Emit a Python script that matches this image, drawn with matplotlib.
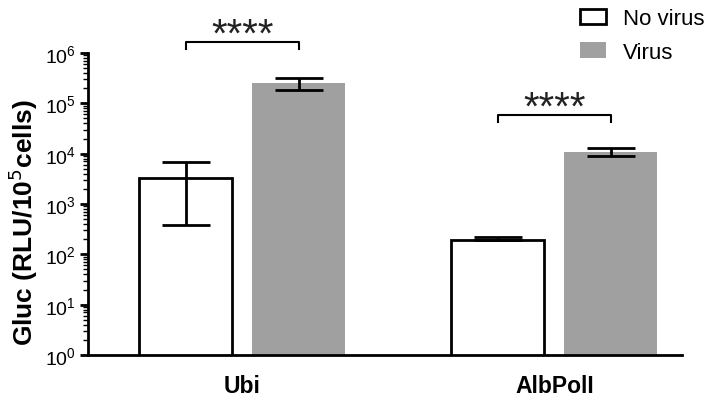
import numpy as np
import matplotlib.pyplot as plt
from matplotlib.patches import Patch

plt.rcParams['font.family'] = ['Liberation Sans', 'DejaVu Sans']

groups = ['Ubi', 'AlbPolI']
no_virus = [3300, 193]
no_virus_low = [390, 193]
no_virus_high = [6700, 222]
virus = [2.5e5, 1.09e4]
virus_low = [1.85e5, 9100]
virus_high = [3.2e5, 1.3e4]

# significance brackets: (bracket y, tick bottom y, star y)
sig_y = [(1.65e6, 1.2e6, 2.3e6), (5.9e4, 4.3e4, 8.3e4)]
sig_text = ['****', '****']

fig = plt.figure(figsize=(7.08, 4.02), dpi=100)
ax = fig.add_axes([88 / 708, 46 / 402, (682 - 88) / 708, 302 / 402])

x = np.arange(len(groups))
off = 0.181
w = 0.298

nv = np.array(no_virus)
vv = np.array(virus)
nv_err = [nv - np.array(no_virus_low), np.array(no_virus_high) - nv]
vv_err = [vv - np.array(virus_low), np.array(virus_high) - vv]

ax.bar(x - off, nv, w, color='white', edgecolor='black', linewidth=2, zorder=2)
ax.bar(x + off, vv, w, color='#a0a0a0', edgecolor='none', zorder=2)
ax.errorbar(x - off, nv, yerr=nv_err, fmt='none', ecolor='black', elinewidth=2,
            capsize=17, capthick=2, zorder=3)
ax.errorbar(x + off, vv, yerr=vv_err, fmt='none', ecolor='black', elinewidth=2,
            capsize=17, capthick=2, zorder=3)

for i, (yb, yt, ys) in enumerate(sig_y):
    ax.plot([x[i] - off, x[i] - off, x[i] + off, x[i] + off], [yt, yb, yb, yt],
            color='black', linewidth=1.5, clip_on=False)
    ax.text(x[i], ys, sig_text[i], ha='center', va='center', fontsize=29,
            color='#222222', clip_on=False)

ax.set_yscale('log')
ax.set_ylim(1, 1e6)
ax.set_xlim(-0.495, 1.409)
ax.set_xticks(x)
ax.set_xticklabels(groups, fontsize=16.5, fontweight='bold')
ax.tick_params(axis='x', length=0, pad=14)
ax.set_yticks([10 ** k for k in range(7)])
ax.tick_params(axis='y', which='major', length=6, width=2, labelsize=14, pad=3)
ax.tick_params(axis='y', which='minor', length=3.5, width=1)
ax.set_ylabel('Gluc (RLU/10$^5$cells)', fontsize=19, fontweight='bold')
ax.yaxis.set_label_coords(-0.08, 0.44)

for s in ['top', 'right']:
    ax.spines[s].set_visible(False)
for s in ['left', 'bottom']:
    ax.spines[s].set_linewidth(2)

handles = [Patch(facecolor='white', edgecolor='black', linewidth=2, label='No virus'),
           Patch(facecolor='#a0a0a0', edgecolor='none', label='Virus')]
fig.legend(handles=handles, loc='upper left', bbox_to_anchor=(567 / 708, 1.01),
           frameon=False, fontsize=16, handlelength=1.15, handleheight=0.7,
           handletextpad=0.75, labelspacing=0.55, borderaxespad=0.2)

fig.savefig('out.png', dpi=100)
